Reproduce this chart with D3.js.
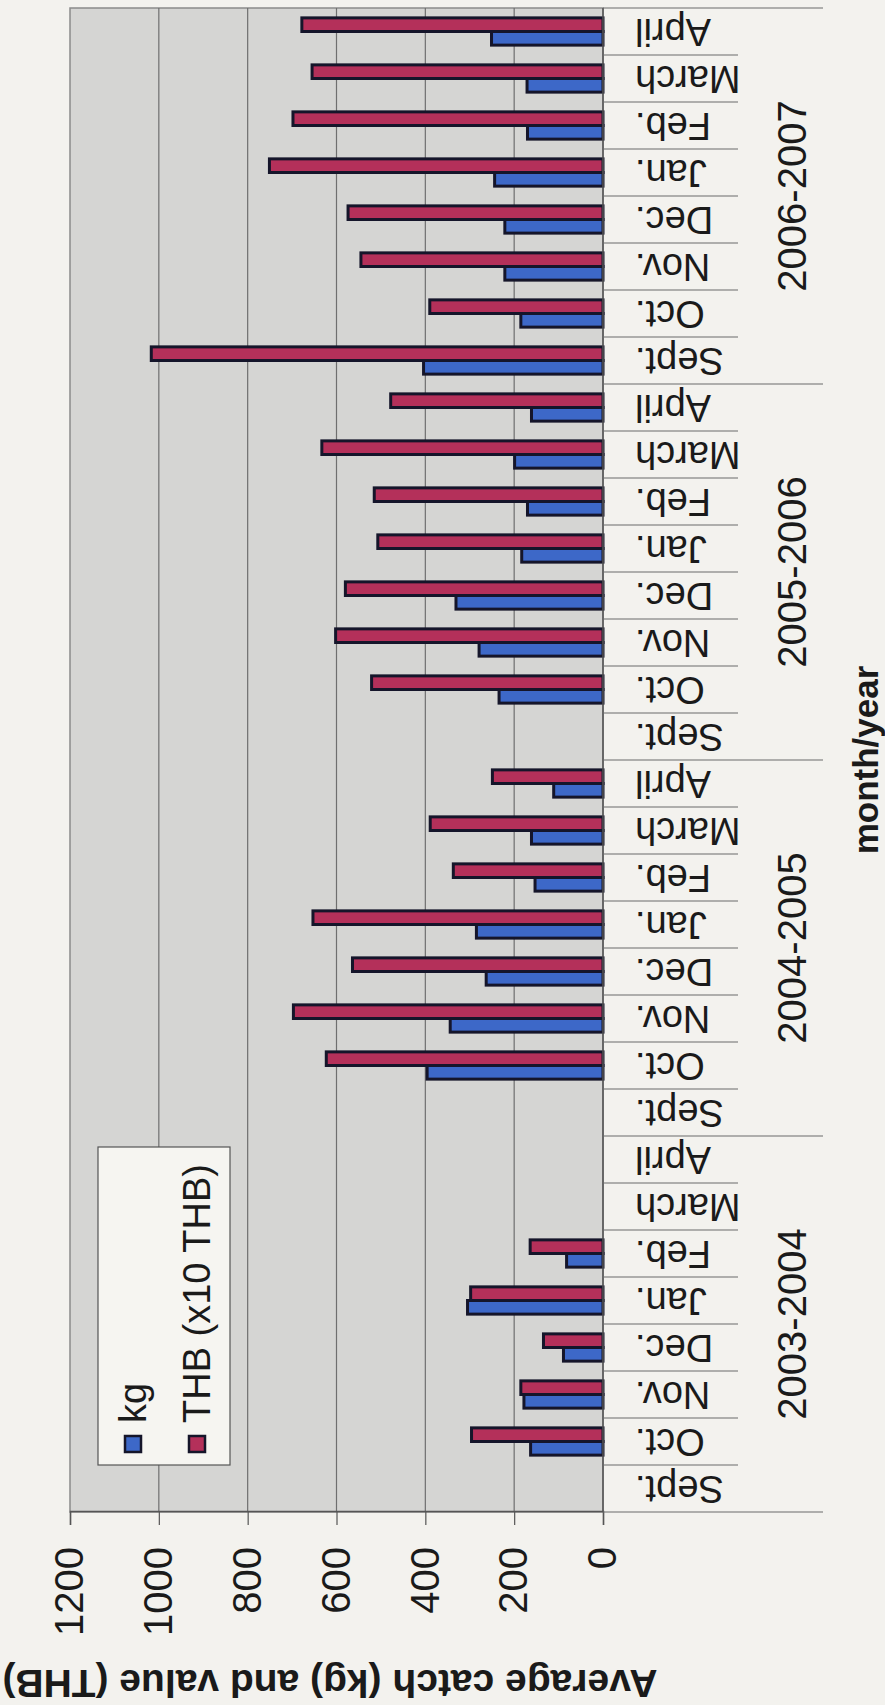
<!DOCTYPE html>
<html>
<head>
<meta charset="utf-8">
<script src="https://cdn.jsdelivr.net/npm/d3@7"></script>
<style>
  body { margin: 0; background: #f3f2ee; }
  text { font-family: "Liberation Sans", Arial, sans-serif; fill: #1a1a1a; }
</style>
</head>
<body>
<svg id="chart"></svg>
<script>
var years = ["2003-2004", "2004-2005", "2005-2006", "2006-2007"]
var months = ["Sept.", "Oct.", "Nov.", "Dec.", "Jan.", "Feb.", "March", "April"]

// one value per month, Sept..April of each season, null = no data
var kgValues = [
    null, 163, 178, 89, 305, 82, null, null,
    null, 396, 344, 263, 285, 153, 161, 111,
    null, 234, 279, 331, 183, 170, 199, 161,
    404, 185, 221, 221, 244, 170, 171, 251
]
var thbValues = [
    null, 296, 185, 134, 298, 164, null, null,
    null, 623, 697, 564, 653, 337, 389, 249,
    null, 521, 602, 580, 507, 515, 633, 478,
    1017, 390, 545, 574, 751, 698, 655, 678
]
var seriesNames = ["kg", "THB (x10 THB)"]
var seriesColors = ["#3d68c8", "#b4305a"]
var valueTicks = [0, 200, 400, 600, 800, 1000, 1200]

var dimensions = {
    width: 1705,   // the chart is drawn landscape, then turned a quarter to the left
    height: 885,
    margin: { top: 70, bottom: 282, left: 193, right: 8 }
}

var categories = []
years.forEach(y => months.forEach(m => categories.push(y + "|" + m)))

var dataset = categories.map((c, i) => ({ key: c, year: c.split("|")[0], month: c.split("|")[1], values: [kgValues[i], thbValues[i]] }))

var svg = d3.select("#chart")
            .attr("width", 885)
            .attr("height", 1705)

var g = svg.append("g")
           .attr("transform", "translate(0," + dimensions.width + ") rotate(-90)")

var plotLeft = dimensions.margin.left
var plotRight = dimensions.width - dimensions.margin.right
var plotTop = dimensions.margin.top
var plotBottom = dimensions.height - dimensions.margin.bottom

var xScale = d3.scaleBand()
               .domain(categories)
               .range([plotLeft, plotRight])
               .paddingInner(0.42)
               .paddingOuter(0.21)

var xSub = d3.scaleBand()
             .domain([0, 1])
             .range([0, xScale.bandwidth()])

var yScale = d3.scaleLinear()
               .domain([0, 1200])
               .range([plotBottom, plotTop])

var step = xScale.step()

// plot area
g.append("rect")
 .attr("x", plotLeft)
 .attr("y", plotTop)
 .attr("width", plotRight - plotLeft)
 .attr("height", plotBottom - plotTop)
 .attr("fill", "#d5d5d3")
 .attr("stroke", "#8a8a8a")
 .attr("stroke-width", 1.5)

g.append("g")
 .selectAll("line")
 .data(valueTicks.filter(v => v > 0 && v < 1200))
 .enter()
 .append("line")
 .attr("x1", plotLeft)
 .attr("x2", plotRight)
 .attr("y1", d => yScale(d))
 .attr("y2", d => yScale(d))
 .attr("stroke", "#6f6f6f")
 .attr("stroke-width", 1.2)

// legend sits inside the plot
var legend = g.append("g")
legend.append("rect")
      .attr("x", 240)
      .attr("y", 98)
      .attr("width", 318)
      .attr("height", 132)
      .attr("fill", "#f6f5f1")
      .attr("stroke", "#555")
      .attr("stroke-width", 1.2)

seriesNames.forEach((name, i) => {
    var cy = 133 + i * 64
    legend.append("rect")
          .attr("x", 253)
          .attr("y", cy - 8)
          .attr("width", 16)
          .attr("height", 16)
          .attr("fill", seriesColors[i])
          .attr("stroke", "#15152a")
          .attr("stroke-width", 2.5)
    legend.append("text")
          .attr("x", 282)
          .attr("y", cy)
          .attr("dominant-baseline", "central")
          .style("font-size", "38px")
          .text(name)
})

// bars
var groups = g.append("g")
              .selectAll(".cat")
              .data(dataset)
              .enter()
              .append("g")
              .attr("class", "cat")
              .attr("transform", d => "translate(" + xScale(d.key) + ",0)")

groups.selectAll("rect")
      .data(d => d.values.map((v, i) => ({ series: i, value: v })).filter(e => e.value != null))
      .enter()
      .append("rect")
      .attr("x", d => xSub(d.series))
      .attr("y", d => yScale(d.value))
      .attr("width", xSub.bandwidth())
      .attr("height", d => yScale(0) - yScale(d.value))
      .attr("fill", d => seriesColors[d.series])
      .attr("stroke", "#15152a")
      .attr("stroke-width", 3)

// value axis
var valueAxis = g.append("g")
                 .attr("transform", "translate(" + plotLeft + ",0)")
                 .call(d3.axisLeft(yScale).tickValues(valueTicks).tickFormat(d3.format("d")).tickSize(13).tickPadding(22))
valueAxis.select(".domain").attr("stroke", "#555").attr("stroke-width", 1.5)
valueAxis.selectAll(".tick line").attr("stroke", "#555").attr("stroke-width", 1.2)
valueAxis.selectAll(".tick text")
         .style("font-size", "40px")
         .style("font-family", "'Liberation Sans', Arial, sans-serif")
         .attr("fill", "#1a1a1a")

// category axis with two levels
var catAxis = g.append("g")
catAxis.append("line")
       .attr("x1", plotLeft)
       .attr("x2", plotRight)
       .attr("y1", plotBottom)
       .attr("y2", plotBottom)
       .attr("stroke", "#555")
       .attr("stroke-width", 1.5)

var boundaries = d3.range(categories.length + 1)
catAxis.selectAll(".sep")
       .data(boundaries)
       .enter()
       .append("line")
       .attr("class", "sep")
       .attr("x1", d => plotLeft + d * step)
       .attr("x2", d => plotLeft + d * step)
       .attr("y1", plotBottom)
       .attr("y2", d => d % months.length == 0 ? 823 : 738)
       .attr("stroke", "#6a6a6a")
       .attr("stroke-width", 1.1)

catAxis.selectAll(".month")
       .data(dataset)
       .enter()
       .append("text")
       .attr("class", "month")
       .attr("transform", d => "translate(" + (xScale(d.key) + xScale.bandwidth() / 2) + "," + 635 + ") rotate(-90)")
       .attr("text-anchor", "end")
       .attr("dominant-baseline", "central")
       .style("font-size", "38px")
       .text(d => d.month)

catAxis.selectAll(".year")
       .data(years)
       .enter()
       .append("text")
       .attr("class", "year")
       .attr("x", (d, i) => plotLeft + (i + 0.5) * months.length * step)
       .attr("y", 792)
       .attr("text-anchor", "middle")
       .attr("dominant-baseline", "central")
       .style("font-size", "40px")
       .text(d => d)

g.append("text")
 .attr("x", (plotLeft + plotRight) / 2)
 .attr("y", 865)
 .attr("text-anchor", "middle")
 .attr("dominant-baseline", "central")
 .style("font-size", "35px")
 .style("font-weight", "bold")
 .text("month/year")

g.append("text")
 .attr("transform", "translate(22," + 330 + ") rotate(-90)")
 .attr("text-anchor", "middle")
 .attr("dominant-baseline", "central")
 .style("font-size", "39px")
 .style("font-weight", "bold")
 .text("Average catch (kg) and value (THB)")
</script>
</body>
</html>
